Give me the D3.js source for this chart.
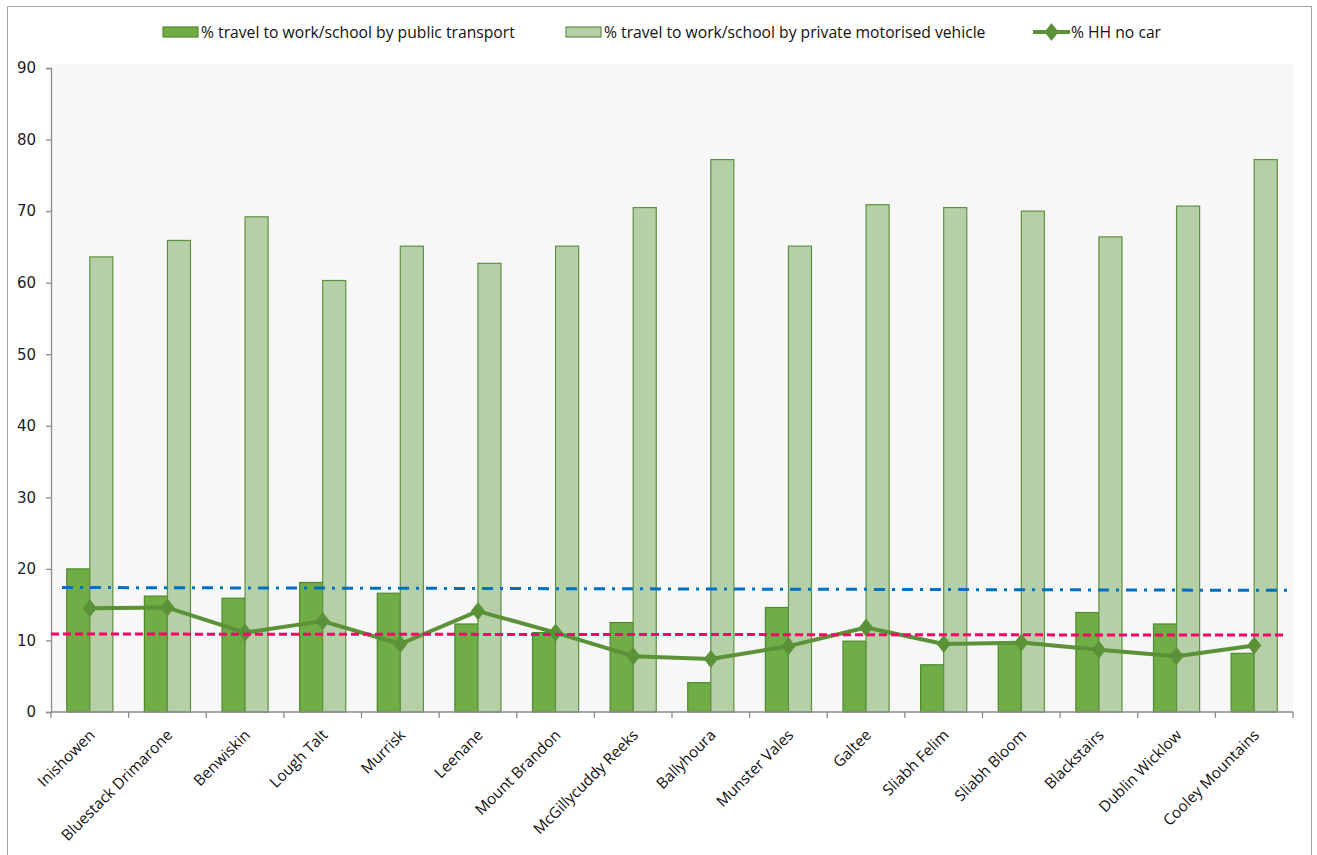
<!DOCTYPE html>
<html>
<head>
<meta charset="utf-8">
<script src="https://cdn.jsdelivr.net/npm/d3@7"></script>
<style>
  html, body { margin: 0; padding: 0; background: #ffffff; }
  svg { display: block; }
</style>
</head>
<body>
<svg id="chart" width="1317" height="855"></svg>
<script>
// Mountain areas
const categories = [
  "Inishowen", "Bluestack Drimarone", "Benwiskin", "Lough Talt", "Murrisk",
  "Leenane", "Mount Brandon", "McGillycuddy Reeks", "Ballyhoura", "Munster Vales",
  "Galtee", "Sliabh Felim", "Sliabh Bloom", "Blackstairs", "Dublin Wicklow",
  "Cooley Mountains"
];

// % travel to work/school by public transport
const publicTransport = [20.0, 16.2, 15.9, 18.1, 16.6, 12.3, 11.1, 12.5, 4.1, 14.6, 9.9, 6.6, 9.6, 13.9, 12.3, 8.2];

// % travel to work/school by private motorised vehicle
const privateVehicle = [63.6, 65.9, 69.2, 60.3, 65.1, 62.7, 65.1, 70.5, 77.2, 65.1, 70.9, 70.5, 70.0, 66.4, 70.7, 77.2];

// % households with no car
const hhNoCar = [14.5, 14.6, 11.1, 12.7, 9.5, 14.1, 11.1, 7.8, 7.4, 9.2, 11.8, 9.5, 9.7, 8.7, 7.8, 9.3];

// Benchmark lines (start value, end value)
const transportBenchmark = [17.4, 17.0];
const noCarBenchmark = [10.9, 10.75];

const yTicks = [0, 10, 20, 30, 40, 50, 60, 70, 80, 90];

const legendLabels = [
  "% travel to work/school by public transport",
  "% travel to work/school by private motorised vehicle",
  "% HH no car"
];

// ---- layout ----
const W = 1317, H = 855;
const plot = { left: 51, right: 1293, top: 68, bottom: 712, bgTop: 64 };
const textFont = "'Open Sans', Lato, sans-serif";

const colors = {
  publicFill: "#70ad47", publicStroke: "#4f8a2c",
  privateFill: "#b5cfa6", privateStroke: "#5e9140",
  line: "#5b9137",
  blue: "#0070c0", red: "#ff0066",
  axis: "#8c8c8c", border: "#a6a6a6", bg: "#f7f7f7"
};

const svg = d3.select("#chart");

// outer chart border
svg.append("rect")
  .attr("x", 7.5).attr("y", 6.5)
  .attr("width", 1304).attr("height", 860)
  .attr("fill", "#ffffff").attr("stroke", colors.border).attr("stroke-width", 1);

// plot background
svg.append("rect")
  .attr("x", plot.left).attr("y", plot.bgTop)
  .attr("width", plot.right - plot.left).attr("height", plot.bottom - plot.bgTop)
  .attr("fill", colors.bg);

const x = d3.scaleBand().domain(categories).range([plot.left, plot.right]).padding(0);
const y = d3.scaleLinear().domain([0, 90]).range([plot.bottom, plot.top]);
const barW = x.bandwidth() * 0.297;
const cx = c => x(c) + x.bandwidth() / 2;

// ---- bars ----
const g = svg.append("g");
g.selectAll("rect.pub").data(categories).join("rect")
  .attr("class", "pub")
  .attr("x", c => cx(c) - barW)
  .attr("y", (c, i) => y(publicTransport[i]))
  .attr("width", barW)
  .attr("height", (c, i) => y(0) - y(publicTransport[i]))
  .attr("fill", colors.publicFill)
  .attr("stroke", colors.publicStroke).attr("stroke-width", 1.2);

g.selectAll("rect.priv").data(categories).join("rect")
  .attr("class", "priv")
  .attr("x", c => cx(c))
  .attr("y", (c, i) => y(privateVehicle[i]))
  .attr("width", barW)
  .attr("height", (c, i) => y(0) - y(privateVehicle[i]))
  .attr("fill", colors.privateFill)
  .attr("stroke", colors.privateStroke).attr("stroke-width", 1.2);

// ---- axes ----
const yAxis = d3.axisLeft(y).tickValues(yTicks).tickSize(5).tickPadding(10).tickFormat(d3.format("d"));
const yg = svg.append("g").attr("transform", `translate(${plot.left},0)`).call(yAxis);
yg.select(".domain").attr("stroke", colors.axis).attr("stroke-width", 1.3);
yg.selectAll(".tick line").attr("stroke", colors.axis).attr("stroke-width", 1.3);
yg.selectAll(".tick text")
  .attr("font-family", "'DejaVu Sans', Verdana, sans-serif")
  .attr("font-size", 15).attr("fill", "#222");

// x axis line with ticks at category boundaries
const xg = svg.append("g");
xg.append("line")
  .attr("x1", plot.left).attr("x2", plot.right)
  .attr("y1", plot.bottom).attr("y2", plot.bottom)
  .attr("stroke", colors.axis).attr("stroke-width", 1.3);
const bounds = categories.map(c => x(c)).concat([plot.right]);
xg.selectAll("line.t").data(bounds).join("line")
  .attr("class", "t")
  .attr("x1", d => d).attr("x2", d => d)
  .attr("y1", plot.bottom).attr("y2", plot.bottom + 6)
  .attr("stroke", colors.axis).attr("stroke-width", 1.3);

xg.selectAll("text.cat").data(categories).join("text")
  .attr("class", "cat")
  .attr("transform", c => `translate(${cx(c) + 6},${plot.bottom + 24}) rotate(-45)`)
  .attr("text-anchor", "end")
  .attr("font-family", textFont)
  .attr("font-size", 15.3).attr("fill", "#111")
  .text(c => c);

// ---- % HH no car line ----
const lineGen = d3.line().x((d, i) => cx(categories[i])).y(d => y(d));
svg.append("path").datum(hhNoCar)
  .attr("d", lineGen)
  .attr("fill", "none").attr("stroke", colors.line).attr("stroke-width", 4)
  .attr("stroke-linejoin", "round");

const diamond = d3.symbol().type(d3.symbolDiamond).size(95);
svg.selectAll("path.mk").data(hhNoCar).join("path")
  .attr("class", "mk")
  .attr("d", diamond)
  .attr("transform", (d, i) => `translate(${cx(categories[i])},${y(d)}) scale(1.35,1)`)
  .attr("fill", colors.line);

// ---- benchmark lines ----
svg.append("line")
  .attr("x1", plot.left + 11).attr("x2", plot.right - 4)
  .attr("y1", y(transportBenchmark[0])).attr("y2", y(transportBenchmark[1]))
  .attr("stroke", colors.blue).attr("stroke-width", 3)
  .attr("stroke-dasharray", "11,7,3,7");

svg.append("line")
  .attr("x1", plot.left).attr("x2", plot.right - 8)
  .attr("y1", y(noCarBenchmark[0])).attr("y2", y(noCarBenchmark[1]))
  .attr("stroke", colors.red).attr("stroke-width", 3)
  .attr("stroke-dasharray", "8,4");

// ---- legend ----
const lg = svg.append("g").attr("font-family", textFont).attr("font-size", 15.7);
const legY = 32;
const legendItems = [
  { x: 163, type: "bar", fill: colors.publicFill, stroke: colors.publicStroke },
  { x: 566, type: "bar", fill: colors.privateFill, stroke: colors.privateStroke },
  { x: 1033, type: "line" }
];
legendItems.forEach((it, i) => {
  if (it.type === "bar") {
    lg.append("rect").attr("x", it.x).attr("y", legY - 5).attr("width", 35).attr("height", 10)
      .attr("fill", it.fill).attr("stroke", it.stroke).attr("stroke-width", 1.2);
  } else {
    lg.append("line").attr("x1", it.x).attr("x2", it.x + 37).attr("y1", legY).attr("y2", legY)
      .attr("stroke", colors.line).attr("stroke-width", 4);
    lg.append("path").attr("d", diamond)
      .attr("transform", `translate(${it.x + 18.5},${legY}) scale(1.35,1)`)
      .attr("fill", colors.line);
  }
  lg.append("text").attr("x", it.x + 38).attr("y", legY + 5.5)
    .attr("fill", "#111").text(legendLabels[i]);
});
</script>
</body>
</html>
